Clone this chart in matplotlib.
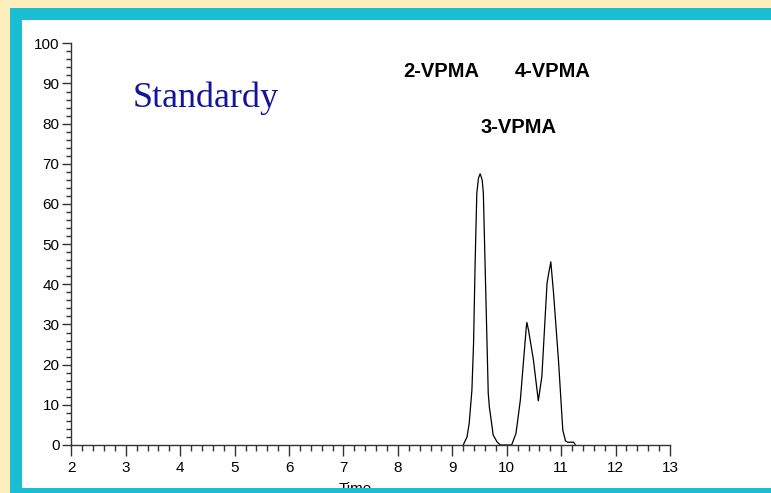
import matplotlib.pyplot as plt
from matplotlib.patches import Rectangle
from matplotlib.ticker import MultipleLocator

# chromatogram trace (time in min, relative intensity)
time = [9.20, 9.27, 9.31, 9.36, 9.39, 9.42, 9.45, 9.48, 9.51, 9.53, 9.55,
        9.57, 9.60, 9.63, 9.66, 9.68, 9.73, 9.75, 9.82, 9.88, 10.09, 10.17,
        10.25, 10.31, 10.36, 10.37, 10.40, 10.49, 10.58, 10.645, 10.74, 10.77,
        10.81, 10.86, 10.95, 11.03, 11.08, 11.12, 11.23, 11.26]
signal = [0, 2.0, 5.4, 13.7, 25.3, 46, 62.7, 66.4, 67.5, 66.8, 65.8,
          62.7, 46, 29.5, 12.9, 9.5, 4.6, 2.5, 0.8, 0, 0, 2.9,
          11.2, 21.2, 29.5, 30.5, 28.6, 21.2, 11, 17, 40.2, 42.7,
          45.6, 37.8, 21.2, 3.7, 1.0, 0.7, 0.7, 0]

peak_names = ["2-VPMA", "4-VPMA", "3-VPMA"]
peak_label_x = [8.10, 10.155, 9.51]
peak_label_y = [91.5, 91.5, 77.6]

W, H = 771, 493
fig = plt.figure(figsize=(W / 100, H / 100), dpi=100, facecolor="#FDEFBD")


def box(x0, y0, x1, y1, color, z):
    # pixel box measured from top-left corner
    fig.patches.append(Rectangle((x0 / W, 1 - y1 / H), (x1 - x0) / W, (y1 - y0) / H,
                                 transform=fig.transFigure, color=color,
                                 zorder=z, lw=0))


box(10, 8, W, H, "#1ABED2", -3)
box(22, 20, W, 488, "white", -2)
box(10, 488, W, H, "#1ABED2", 10)

ax = fig.add_axes([71.4 / W, 1 - 445 / H, (670 - 71.4) / W, (445 - 43.3) / H])
ax.patch.set_visible(False)

ax.plot(time, signal, color="black", lw=0.9)

ax.set_xlim(2, 13)
ax.set_ylim(0, 100)
ax.xaxis.set_major_locator(MultipleLocator(1))
ax.xaxis.set_minor_locator(MultipleLocator(0.2))
ax.yaxis.set_major_locator(MultipleLocator(10))
ax.yaxis.set_minor_locator(MultipleLocator(2))

for s in ["top", "right"]:
    ax.spines[s].set_visible(False)
for s in ["left", "bottom"]:
    ax.spines[s].set_color("#333333")
    ax.spines[s].set_linewidth(1.0)

ax.tick_params(axis="x", which="major", length=8, width=1, color="#333333",
               pad=3.5, labelsize=11)
ax.tick_params(axis="x", which="minor", length=4.3, width=1, color="#333333")
ax.tick_params(axis="y", which="major", length=6.5, width=1, color="#333333",
               pad=2, labelsize=11)
ax.tick_params(axis="y", which="minor", length=3.6, width=1, color="#333333")
for lab in ax.get_xticklabels() + ax.get_yticklabels():
    lab.set_fontfamily("Liberation Sans")

ax.text(3.13, 84.2, "Standardy", family="Liberation Serif", fontsize=26,
        color="#13139B", ha="left", va="baseline")
for name, x, y in zip(peak_names, peak_label_x, peak_label_y):
    ax.text(x, y, name, family="Liberation Sans", fontsize=14.5,
            fontweight="bold", ha="left", va="baseline")

fig.text(355 / W, 1 - 482 / H, "Time", family="Liberation Sans", fontsize=11,
         ha="center", va="top", zorder=5)

fig.savefig("out.png", dpi=100, facecolor=fig.get_facecolor())
